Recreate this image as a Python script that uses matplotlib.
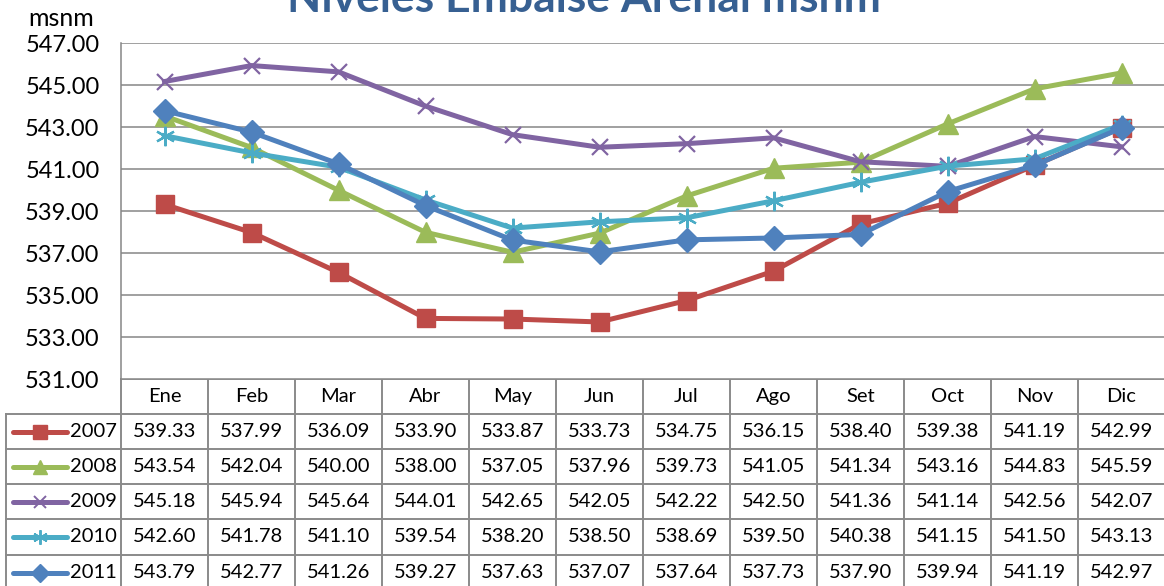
import numpy as np
import matplotlib
matplotlib.use("Agg")
import matplotlib.pyplot as plt

plt.rcParams["font.family"] = ["Lato", "DejaVu Sans"]

meses = ["Ene", "Feb", "Mar", "Abr", "May", "Jun", "Jul", "Ago", "Set", "Oct", "Nov", "Dic"]
anios = ["2007", "2008", "2009", "2010", "2011"]
n2007 = [539.33, 537.99, 536.09, 533.90, 533.87, 533.73, 534.75, 536.15, 538.40, 539.38, 541.19, 542.99]
n2008 = [543.54, 542.04, 540.00, 538.00, 537.05, 537.96, 539.73, 541.05, 541.34, 543.16, 544.83, 545.59]
n2009 = [545.18, 545.94, 545.64, 544.01, 542.65, 542.05, 542.22, 542.50, 541.36, 541.14, 542.56, 542.07]
n2010 = [542.60, 541.78, 541.10, 539.54, 538.20, 538.50, 538.69, 539.50, 540.38, 541.15, 541.50, 543.13]
n2011 = [543.79, 542.77, 541.26, 539.27, 537.63, 537.07, 537.64, 537.73, 537.90, 539.94, 541.19, 542.97]
series = [n2007, n2008, n2009, n2010, n2011]

colores = ["#BE4B48", "#9BBB59", "#8064A2", "#4BACC6", "#4F81BD"]
marcadores = ["s", "^", "x", (6, 2, 0), "D"]
tam = [13, 14, 12, 14, 12]

W, H = 1164, 586
fig = plt.figure(figsize=(W / 100, H / 100), dpi=100)

# pixel layout
x0, x1 = 121, 1165
ytop, ybot = 43.3, 379.3
col_w = (x1 - x0) / 12
row_edges = [379.3, 414, 449, 484, 519, 555, 590]
gris = "#8A8A8A"
fs = 14.5

ax = fig.add_axes([x0 / W, 1 - ybot / H, (x1 - x0) / W, (ybot - ytop) / H])
x = np.arange(12)
for vals, c, m, s in zip(series, colores, marcadores, tam):
    ax.plot(x, vals, color=c, lw=3.6, marker=m, ms=s, mew=1.6 if m in ("x", (6, 2, 0)) else 1,
            mec=c, mfc=c, solid_joinstyle="round", clip_on=False)
ax.set_xlim(-0.5, 11.5)
ax.set_ylim(531, 547)
ax.set_yticks(np.arange(531, 548, 2))
ax.set_yticklabels([f"{v:.2f}" for v in np.arange(531, 548, 2)], fontsize=17)
ax.set_xticks([])
ax.tick_params(axis="y", length=0, pad=15.5)
ax.grid(axis="y", color="#868686", lw=1.1)
for sp in ["top", "right", "bottom"]:
    ax.spines[sp].set_visible(False)
ax.spines["left"].set_color("#868686")
ax.spines["left"].set_linewidth(1.1)
ax.set_axisbelow(True)

# data table below the plot
tab = fig.add_axes([0, 0, 1, 1], zorder=-1)
tab.set_xlim(0, W)
tab.set_ylim(H, 0)
tab.axis("off")

lw_t = 1.4
tab.plot([x0, x1], [row_edges[0]] * 2, color=gris, lw=lw_t)
for yy in row_edges[1:]:
    tab.plot([6, x1], [yy, yy], color=gris, lw=lw_t)
for k in range(13):
    xx = x0 + k * col_w
    tab.plot([xx, xx], [row_edges[0], H + 5], color=gris, lw=lw_t)
tab.plot([6, 6], [row_edges[1], H + 5], color=gris, lw=lw_t)

yh = (row_edges[0] + row_edges[1]) / 2
for k, mes in enumerate(meses):
    tab.text(x0 + (k + 0.5) * col_w, yh, mes, ha="center", va="center", fontsize=fs)

for i, (anio, vals) in enumerate(zip(anios, series)):
    yc = (row_edges[i + 1] + row_edges[i + 2]) / 2
    tab.plot([13, 67], [yc, yc], color=colores[i], lw=3.6, solid_capstyle="round")
    tab.plot([40], [yc], color=colores[i], marker=marcadores[i], ms=tam[i] * 0.75,
             mew=1.4 if marcadores[i] in ("x", (6, 2, 0)) else 1)
    tab.text(70, yc, anio, ha="left", va="center", fontsize=fs)
    for k, v in enumerate(vals):
        tab.text(x0 + (k + 0.5) * col_w, yc, f"{v:.2f}", ha="center", va="center", fontsize=fs)

fig.text(61 / W, 1 - 19 / H, "msnm", ha="center", va="center", fontsize=18)
fig.text(584 / W, 1 - 12 / H, "Niveles Embalse Arenal msnm", ha="center", va="baseline",
         fontsize=32, fontweight="bold", color="#376092")

fig.savefig("out.png", dpi=100)
